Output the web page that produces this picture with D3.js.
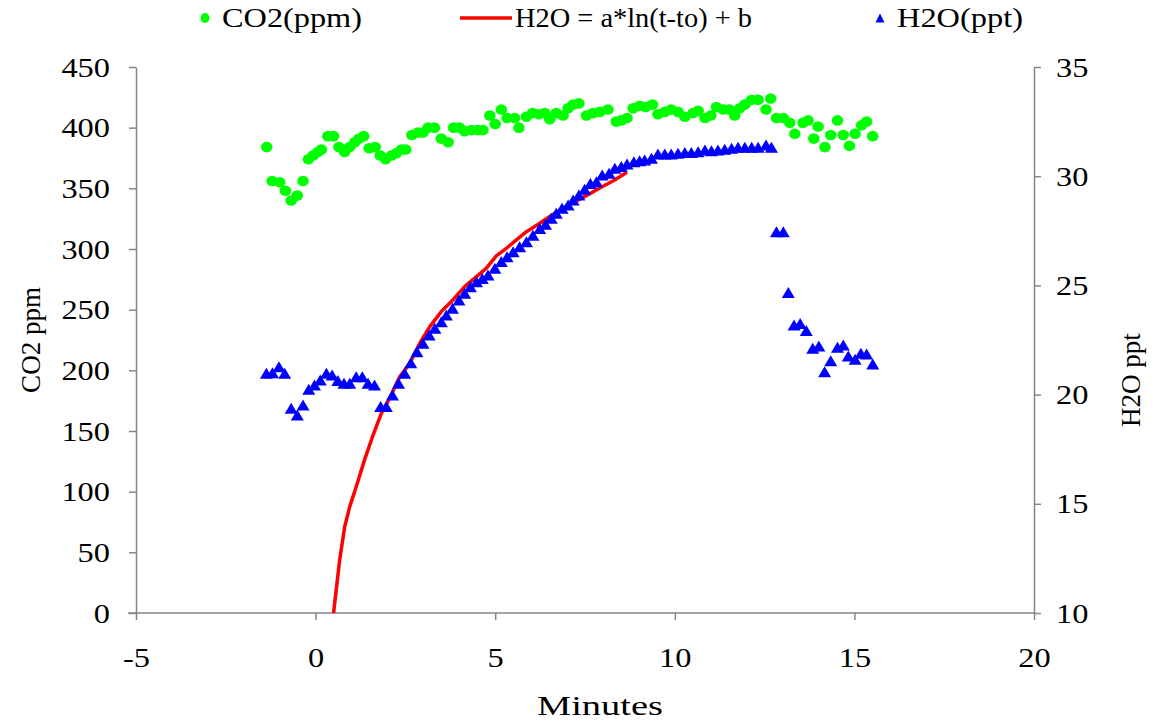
<!DOCTYPE html>
<html>
<head>
<meta charset="utf-8">
<script src="https://cdn.jsdelivr.net/npm/d3@7"></script>
<style>
  body { margin: 0; background: #fff; }
  svg { display: block; }
</style>
</head>
<body>
<div id="chart"></div>
<script>
// CO2 readings: [minutes, ppm]
const co2 = [
  [-1.36,384],[-1.21,356],[-1.0,355],[-0.84,348],[-0.68,340],[-0.51,344],[-0.35,356],[-0.2,374],
  [-0.07,377],[0.06,380],[0.16,382],[0.34,393],[0.5,393],[0.65,384],[0.81,380],[0.95,384],
  [1.09,388],[1.21,391],[1.34,393],[1.49,383],[1.66,384],[1.8,377],[1.95,374],[2.11,377],
  [2.25,379],[2.39,382],[2.51,382],[2.68,394],[2.85,396],[2.99,396],[3.13,400],[3.31,400],
  [3.5,391],[3.69,388],[3.84,400],[4.01,400],[4.15,397],[4.34,398],[4.52,398],[4.66,398],
  [4.85,410],[5.0,403],[5.17,415],[5.33,408],[5.54,408],[5.66,400],[5.87,409],[6.04,412],
  [6.22,411],[6.38,412],[6.52,407],[6.7,412],[6.89,410],[7.03,416],[7.17,419],[7.33,420],
  [7.54,410],[7.72,412],[7.91,413],[8.14,415],[8.37,405],[8.51,406],[8.67,408],[8.84,416],
  [9.02,418],[9.19,417],[9.38,419],[9.53,411],[9.72,413],[9.9,415],[10.09,413],[10.28,409],
  [10.51,412],[10.65,414],[10.84,408],[11.0,410],[11.16,417],[11.35,415],[11.52,415],[11.67,410],
  [11.81,416],[11.95,419],[12.14,423],[12.32,423],[12.54,415],[12.67,424],[12.83,408],[13.02,408],
  [13.2,404],[13.34,395],[13.57,404],[13.71,406],[13.87,391],[13.99,401],[14.18,384],[14.34,394],
  [14.53,406],[14.69,394],[14.86,385],[15.02,395],[15.2,402],[15.34,405],[15.51,393]
];

// H2O readings: [minutes, ppt]
const h2o = [
  [-1.37,20.98],[-1.2,21.0],[-1.02,21.28],[-0.86,20.98],[-0.68,19.37],[-0.51,19.07],[-0.35,19.52],
  [-0.19,20.24],[-0.03,20.44],[0.13,20.67],[0.3,20.98],[0.46,20.9],[0.62,20.64],[0.79,20.52],
  [0.95,20.52],[1.13,20.82],[1.3,20.82],[1.46,20.52],[1.64,20.44],[1.81,19.45],[1.97,19.45],
  [2.14,19.98],[2.31,20.52],[2.48,20.98],[2.65,21.46],[2.82,21.96],[2.99,22.35],[3.16,22.73],
  [3.32,23.04],[3.5,23.34],[3.64,23.65],[3.81,23.95],[3.99,24.33],[4.15,24.64],[4.31,24.94],
  [4.48,25.17],[4.64,25.32],[4.8,25.48],[4.99,25.78],[5.17,26.09],[5.33,26.31],[5.5,26.54],
  [5.68,26.77],[5.87,27.0],[6.05,27.3],[6.24,27.61],[6.4,27.8],[6.56,28.07],[6.7,28.3],
  [6.86,28.53],[7.03,28.68],[7.17,28.91],[7.33,29.14],[7.49,29.4],[7.65,29.67],[7.82,29.75],
  [7.98,30.05],[8.17,30.13],[8.33,30.36],[8.51,30.44],[8.67,30.56],[8.86,30.66],[9.02,30.71],
  [9.16,30.74],[9.35,30.82],[9.53,31.02],[9.72,31.02],[9.9,31.02],[10.09,31.05],[10.28,31.08],
  [10.46,31.08],[10.65,31.12],[10.84,31.2],[11.02,31.17],[11.2,31.2],[11.39,31.23],[11.58,31.28],
  [11.76,31.32],[11.95,31.32],[12.14,31.32],[12.32,31.32],[12.54,31.43],[12.69,31.32],[12.83,27.46],
  [13.02,27.46],[13.16,24.67],[13.32,23.19],[13.49,23.26],[13.66,22.93],[13.84,22.12],[14.01,22.23],
  [14.17,21.05],[14.34,21.55],[14.53,22.17],[14.69,22.27],[14.83,21.77],[15.02,21.62],[15.18,21.89],
  [15.34,21.86],[15.51,21.4]
];

// fitted curve H2O = a*ln(t-to) + b: [minutes, ppt]
const fit = [
  [0.5,10],[0.67,12.43],[0.81,13.95],[0.95,14.87],[1.13,15.78],[1.36,17.0],[1.6,18.15],
  [1.83,19.14],[2.06,19.83],[2.34,20.82],[2.62,21.43],[2.9,22.35],[3.18,23.11],[3.5,23.8],
  [3.82,24.33],[4.15,24.94],[4.48,25.4],[4.75,25.78],[5.03,26.35],[5.31,26.7],[5.59,27.08],
  [5.87,27.46],[6.2,27.8],[6.6,28.25],[7.0,28.65],[7.45,29.03],[7.9,29.45],[8.3,29.8],[8.67,30.18]
];

const xTicks = [-5, 0, 5, 10, 15, 20];
const leftTicks = [0, 50, 100, 150, 200, 250, 300, 350, 400, 450];
const rightTicks = [10, 15, 20, 25, 30, 35];
const legendLabels = ["CO2(ppm)", "H2O = a*ln(t-to) + b", "H2O(ppt)"];

const W = 1153, H = 722;
const plot = { left: 136, right: 1034, top: 67, bottom: 613 };
const font = "'Liberation Serif', 'Times New Roman', serif";
const stretch = 1.2;   // text in the picture is a bit wide
const axisColor = "#868686";

const svg = d3.select("#chart").append("svg")
  .attr("width", W)
  .attr("height", H);

const x = d3.scaleLinear().domain([-5, 20]).range([plot.left, plot.right]);
const yL = d3.scaleLinear().domain([0, 450]).range([plot.bottom, plot.top]);
const yR = d3.scaleLinear().domain([10, 35]).range([plot.bottom, plot.top]);

function styleAxis(g) {
  g.select(".domain").attr("stroke", axisColor).attr("stroke-width", 1.5);
  g.selectAll(".tick line").attr("stroke", axisColor).attr("stroke-width", 1.5);
  g.selectAll("text")
    .attr("fill", "#000")
    .style("font-family", font)
    .style("font-size", "27px");
}

// plain hyphen for negatives, like the original
const fmt = d => String(d);

// bottom axis
const gx = svg.append("g")
  .attr("transform", `translate(0,${plot.bottom})`)
  .call(d3.axisBottom(x).tickValues(xTicks).tickFormat(fmt).tickSize(7).tickSizeOuter(0));
styleAxis(gx);
gx.selectAll("text").attr("y", 54).attr("dy", "0")
  .attr("transform", `scale(${stretch},1)`);
// short stub left of the y axis
gx.select(".domain").attr("d", `M${plot.left - 8},0H${plot.right}`);

// left axis
const gl = svg.append("g")
  .attr("transform", `translate(${plot.left},0)`)
  .call(d3.axisLeft(yL).tickValues(leftTicks).tickFormat(fmt).tickSize(7).tickSizeOuter(0));
styleAxis(gl);
gl.selectAll("text").attr("x", -26 / stretch).attr("dy", "0.34em")
  .attr("transform", `scale(${stretch},1)`);

// right axis
const gr = svg.append("g")
  .attr("transform", `translate(${plot.right},0)`)
  .call(d3.axisRight(yR).tickValues(rightTicks).tickFormat(fmt).tickSize(7).tickSizeOuter(0));
styleAxis(gr);
gr.selectAll("text").attr("x", 22 / stretch).attr("dy", "0.34em")
  .attr("transform", `scale(${stretch},1)`);

// CO2 points
svg.append("g").selectAll("ellipse")
  .data(co2)
  .join("ellipse")
  .attr("cx", d => x(d[0]))
  .attr("cy", d => yL(d[1]))
  .attr("rx", 5.8)
  .attr("ry", 5.3)
  .attr("fill", "#00ff00");

// fitted line
const line = d3.line()
  .x(d => x(d[0]))
  .y(d => yR(d[1]));

svg.append("path")
  .datum(fit)
  .attr("fill", "none")
  .attr("stroke", "#ff0000")
  .attr("stroke-width", 3.5)
  .attr("stroke-linejoin", "round")
  .attr("d", line);

// H2O triangles
const tri = (w, h) => `M0,${-h / 2}L${w / 2},${h / 2}L${-w / 2},${h / 2}Z`;

svg.append("g").selectAll("path")
  .data(h2o)
  .join("path")
  .attr("transform", d => `translate(${x(d[0])},${yR(d[1])})`)
  .attr("d", tri(13, 11))
  .attr("fill", "#0000ff");

// axis titles
svg.append("text")
  .attr("transform", `translate(40,${(plot.top + plot.bottom) / 2}) rotate(-90)`)
  .attr("text-anchor", "middle")
  .style("font-family", font)
  .style("font-size", "27px")
  .text("CO2 ppm");

svg.append("text")
  .attr("transform", `translate(1140,${(plot.top + plot.bottom) / 2 + 40}) rotate(-90)`)
  .attr("text-anchor", "middle")
  .style("font-family", font)
  .style("font-size", "27px")
  .text("H2O ppt");

svg.append("text")
  .attr("transform", `translate(600,715)`)
  .attr("text-anchor", "middle")
  .attr("textLength", 126)
  .attr("lengthAdjust", "spacingAndGlyphs")
  .style("font-family", font)
  .style("font-size", "27px")
  .text("Minutes");

// legend
const legend = svg.append("g").attr("transform", "translate(0,18)");
const legendX = [205, 486, 880];

legend.append("ellipse")
  .attr("cx", legendX[0]).attr("cy", 0)
  .attr("rx", 4.5).attr("ry", 5)
  .attr("fill", "#00ff00");
legend.append("line")
  .attr("x1", legendX[1] - 26).attr("x2", legendX[1] + 26)
  .attr("y1", 0).attr("y2", 0)
  .attr("stroke", "#ff0000").attr("stroke-width", 3.5);
legend.append("path")
  .attr("transform", `translate(${legendX[2]},0)`)
  .attr("d", tri(9, 9))
  .attr("fill", "#0000ff");

const textX = [222, 515, 897];
const textW = [140, 237, 126];
legend.selectAll("text.lab")
  .data(legendLabels)
  .join("text")
  .attr("class", "lab")
  .attr("x", (d, i) => textX[i])
  .attr("y", 9)
  .attr("textLength", (d, i) => textW[i])
  .attr("lengthAdjust", "spacingAndGlyphs")
  .style("font-family", font)
  .style("font-size", "27px")
  .text(d => d);
</script>
</body>
</html>
